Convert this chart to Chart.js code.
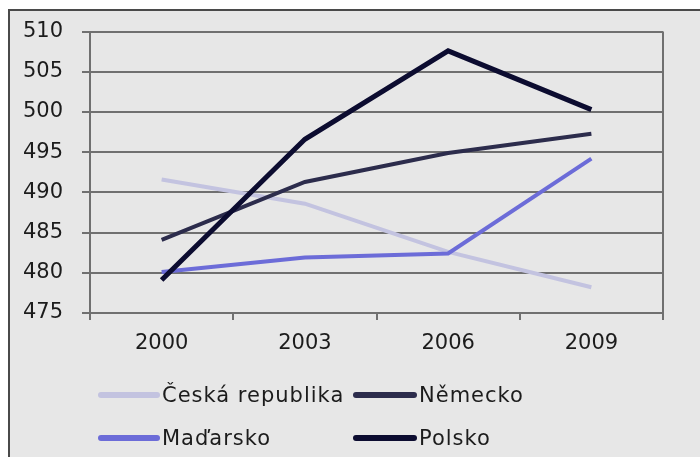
<!DOCTYPE html>
<html lang="cs">
<head>
<meta charset="utf-8">
<script src="https://cdn.jsdelivr.net/npm/chart.js@4.4.1/dist/chart.umd.min.js"></script>
<style>
    html, body { margin: 0; padding: 0; background: #ffffff; }
    #wrap { position: relative; width: 700px; height: 457px; overflow: hidden; }
    #frame {
        position: absolute; left: 8px; top: 9px; width: 700px; height: 460px;
        background: #e7e7e7; border-top: 2px solid #4a4a4a; border-left: 2px solid #4a4a4a;
    }
    #chart { position: absolute; left: 0; top: 0; }
    #legend {
        position: absolute; left: 98px; top: 381px;
        display: grid; grid-template-columns: 255px auto; row-gap: 15px;
        font-family: "DejaVu Sans", sans-serif; font-size: 21px; letter-spacing: 1px; color: #1c1c1c;
    }
    .item { display: flex; align-items: center; height: 28px; }
    .swatch { display: inline-block; width: 62px; height: 6px; border-radius: 3px; margin-right: 2px; }
</style>
</head>
<body>
<div id="wrap">
    <div id="frame"></div>
    <canvas id="chart" width="700" height="457"></canvas>
    <div id="legend"></div>
</div>
<script>
// data
const years = ['2000', '2003', '2006', '2009'];
const seriesNames = ['Česká republika', 'Německo', 'Maďarsko', 'Polsko'];
const ceskaRepublika = [491.6, 488.6, 482.6, 478.2];
const nemecko = [484.1, 491.3, 494.9, 497.3];
const madarsko = [480.1, 481.9, 482.4, 494.2];
const polsko = [479.1, 496.6, 507.6, 500.3];
const yTicks = [475, 480, 485, 490, 495, 500, 505, 510];

const lineColors = ['#c3c3e0', '#2c2c4c', '#6c6cd8', '#0c0c30'];
const lineWidths = [4, 4, 4, 5];
// Polsko nahore
const drawOrder = [3, 2, 1, 0];

const gridColor = '#707070';
const tickFont = { family: 'DejaVu Sans', size: 21 };

// ramecek kolem plochy grafu (prava strana)
const plotBorder = {
    id: 'plotBorder',
    afterDatasetsDraw(chart) {
        const { ctx, chartArea } = chart;
        ctx.save();
        ctx.strokeStyle = gridColor;
        ctx.lineWidth = 2;
        ctx.beginPath();
        ctx.moveTo(chartArea.right, chartArea.top);
        ctx.lineTo(chartArea.right, chartArea.bottom);
        ctx.stroke();
        ctx.restore();
    }
};

const allValues = [ceskaRepublika, nemecko, madarsko, polsko];

const chart = new Chart(document.getElementById('chart'), {
    type: 'line',
    data: {
        labels: years,
        datasets: seriesNames.map((name, i) => ({
            label: name,
            data: allValues[i],
            borderColor: lineColors[i],
            backgroundColor: lineColors[i],
            borderWidth: lineWidths[i],
            pointRadius: 0,
            tension: 0,
            order: drawOrder[i]
        }))
    },
    options: {
        responsive: false,
        animation: false,
        layout: { padding: { top: 22, right: 37, left: 0, bottom: 0 } },
        plugins: {
            legend: { display: false },
            tooltip: { enabled: false }
        },
        scales: {
            x: {
                offset: true,
                grid: {
                    offset: true,
                    drawOnChartArea: false,
                    color: gridColor,
                    lineWidth: 2,
                    tickLength: 7
                },
                border: { color: gridColor, width: 2 },
                ticks: { color: '#1c1c1c', font: tickFont, padding: 11, maxRotation: 0 },
                afterFit: (s) => { s.height = 144; }
            },
            y: {
                min: yTicks[0],
                max: yTicks[yTicks.length - 1],
                afterBuildTicks: (s) => { s.ticks = yTicks.map(v => ({ value: v })); },
                grid: { color: gridColor, lineWidth: 2, tickLength: 8 },
                border: { color: gridColor, width: 2 },
                ticks: { color: '#1c1c1c', font: tickFont, padding: 19 },
                afterFit: (s) => { s.width = 90; }
            }
        }
    },
    plugins: [plotBorder]
});

// legenda 2x2 podle datasetu
function renderLegend() {
    const box = document.getElementById('legend');
    const order = [0, 1, 2, 3];
    order.forEach(i => {
        const ds = chart.data.datasets[i];
        const item = document.createElement('div');
        item.className = 'item';
        const sw = document.createElement('span');
        sw.className = 'swatch';
        sw.style.background = ds.borderColor;
        if (i % 2 === 1) sw.style.width = '64px';
        const txt = document.createElement('span');
        txt.textContent = ds.label;
        item.appendChild(sw);
        item.appendChild(txt);
        box.appendChild(item);
    });
}
renderLegend();
</script>
</body>
</html>
